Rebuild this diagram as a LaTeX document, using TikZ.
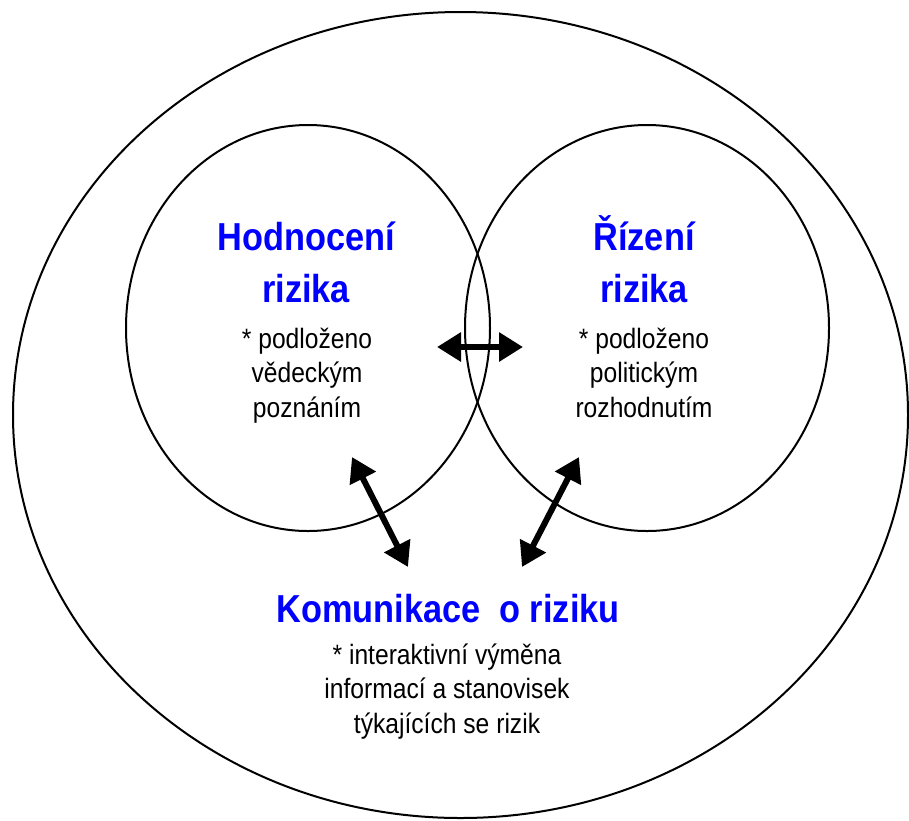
\documentclass[tikz,border=0pt]{standalone}
\usepackage{fontspec}
\setmainfont{Liberation Sans}[FakeStretch=0.88]
\usetikzlibrary{arrows.meta}

\begin{document}
\begin{tikzpicture}[
    x=1pt, y=-1pt,
    ring/.style={line width=2pt},
    heading/.style={font=\bfseries\fontsize{39}{52}\selectfont, text=blue,
                    align=center, inner sep=0pt, anchor=base},
    note/.style={font=\fontsize{28}{34.5}\selectfont, align=center,
                 inner sep=0pt, anchor=base},
    link/.style={line width=6pt,
                 {Triangle[length=24pt,width=28pt]}-{Triangle[length=24pt,width=28pt]}}
]
\useasboundingbox (0,0) rectangle (909,820);

% outer region and the two circles
\draw[ring] (460.5,415) ellipse [x radius=447.5, y radius=403];
\draw[ring] (308,328) ellipse [x radius=182, y radius=203];
\draw[ring] (647,328) ellipse [x radius=182, y radius=203];

% risk assessment (base = last line)
\node[heading] (hodn) at (306,302) {Hodnocení\\rizika};
\node[note] (hodnNote) at (307,417) {* podloženo\\vědeckým\\poznáním};

% risk management
\node[heading] (rizeni) at (644,302) {Řízení\\rizika};
\node[note] (rizeniNote) at (644,417) {* podloženo\\politickým\\rozhodnutím};

% risk communication
\node[heading] (komun) at (448,622) {Komunikace~ o riziku};
\node[note] (komunNote) at (447,733) {* interaktivní výměna\\informací a stanovisek\\týkajících se rizik};

% arrow ends
\coordinate (midL) at (437,347);
\coordinate (midR) at (523,347);
\coordinate (hodnEnd) at (352,457);
\coordinate (komunL) at (408,567);
\coordinate (rizeniEnd) at (579,457);
\coordinate (komunR) at (522,567);

\draw[link] (midL) -- (midR);
\draw[link] (hodnEnd) -- (komunL);
\draw[link] (rizeniEnd) -- (komunR);
\end{tikzpicture}
\end{document}
